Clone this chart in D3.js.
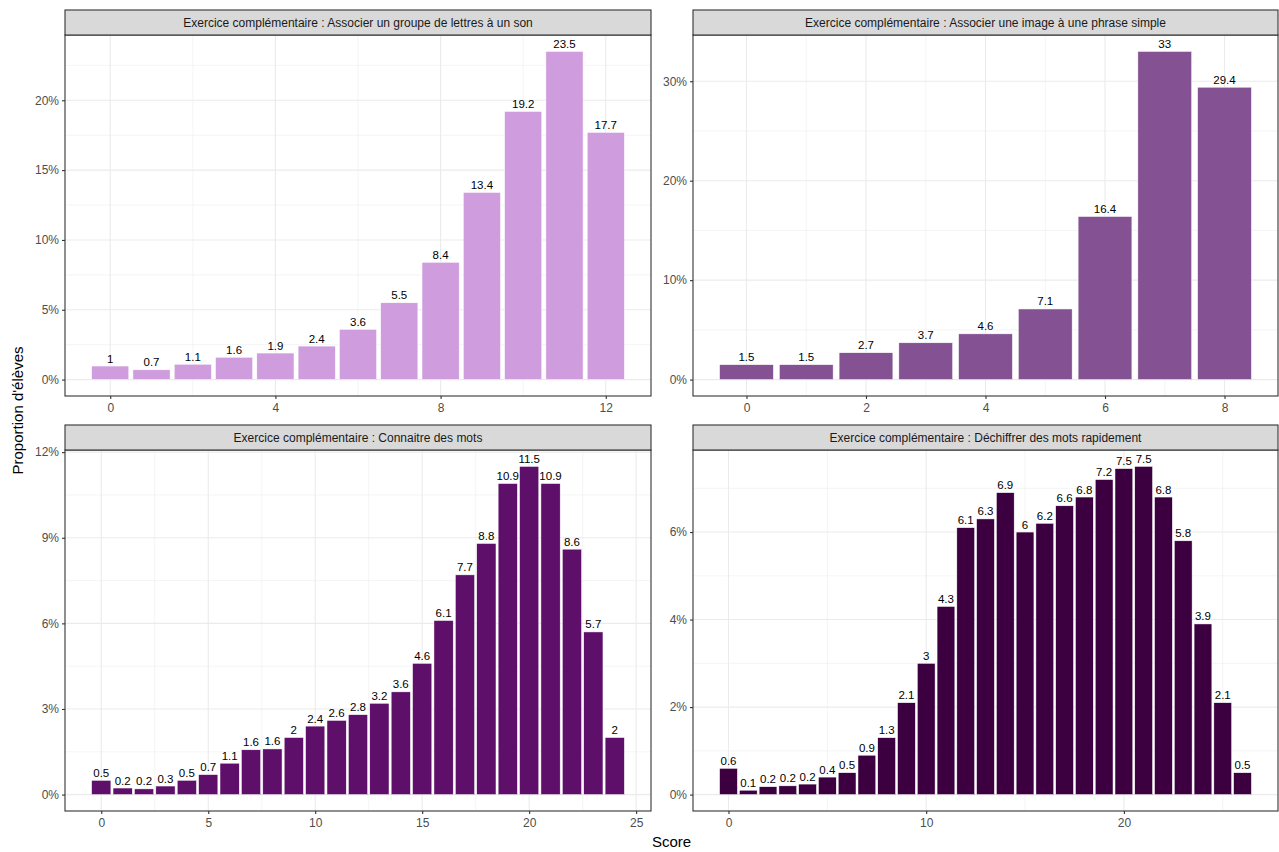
<!DOCTYPE html>
<html><head><meta charset="utf-8">
<script src="https://cdn.jsdelivr.net/npm/d3@7"></script>
<style>body{margin:0;background:#fff;} svg{display:block;font-family:"Liberation Sans",Arial,sans-serif;}</style>
</head><body>
<script>
const titles = [
  "Exercice complémentaire : Associer un groupe de lettres à un son",
  "Exercice complémentaire : Associer une image à une phrase simple",
  "Exercice complémentaire : Connaitre des mots",
  "Exercice complémentaire : Déchiffrer des mots rapidement"
];
const colors = ["#CF9CDE", "#845193", "#5E0F6A", "#3C0041"];
const values1 = [0.97, 0.7, 1.1, 1.6, 1.9, 2.4, 3.6, 5.5, 8.4, 13.4, 19.2, 23.5, 17.7];
const values2 = [1.5, 1.5, 2.7, 3.7, 4.6, 7.1, 16.4, 33, 29.4];
const values3 = [0.5, 0.23, 0.2, 0.3, 0.5, 0.7, 1.1, 1.57, 1.6, 2, 2.4, 2.6, 2.8, 3.2, 3.6, 4.6, 6.1, 7.7, 8.8, 10.9, 11.5, 10.9, 8.6, 5.7, 2];
const values4 = [0.6, 0.1, 0.18, 0.2, 0.24, 0.4, 0.5, 0.9, 1.3, 2.1, 3, 4.3, 6.1, 6.3, 6.9, 6, 6.2, 6.6, 6.8, 7.2, 7.45, 7.5, 6.8, 5.8, 3.9, 2.1, 0.5];
const xTicks = [[0, 4, 8, 12], [0, 2, 4, 6, 8], [0, 5, 10, 15, 20, 25], [0, 10, 20]];
const xMinor = [[2, 6, 10], [1, 3, 5, 7], [2.5, 7.5, 12.5, 17.5, 22.5], [5, 15, 25]];
const yTicks = [[0, 5, 10, 15, 20], [0, 10, 20, 30], [0, 3, 6, 9, 12], [0, 2, 4, 6]];
const yMinor = [[2.5, 7.5, 12.5, 17.5, 22.5], [5, 15, 25], [1.5, 4.5, 7.5, 10.5], [1, 3, 5, 7]];
const xTitle = "Score";
const yTitle = "Proportion d'élèves";

const W = 1279, H = 852;
const svg = d3.select("body").append("svg").attr("width", W).attr("height", H);

const cols = [[65, 651], [693, 1278]];
const rows = [[10, 35, 396], [425, 450, 811]]; // strip top, plot top, plot bottom
const allValues = [values1, values2, values3, values4];
const FONT = "Liberation Sans, Arial, sans-serif";

allValues.forEach((vals, i) => {
  const [x0, x1] = cols[i % 2];
  const [sTop, pTop, pBot] = rows[Math.floor(i / 2)];
  const n = vals.length;
  const lo = -0.45, hi = (n - 1) + 0.45, ex = (hi - lo) * 0.05;
  const x = d3.scaleLinear().domain([lo - ex, hi + ex]).range([x0, x1]);
  const vmax = d3.max(vals);
  const y = d3.scaleLinear().domain([-0.05 * vmax, 1.05 * vmax]).range([pBot, pTop]);
  const g = svg.append("g");

  // grid
  g.selectAll(".ymin").data(yMinor[i].filter(t => y(t) >= pTop)).join("line")
    .attr("x1", x0).attr("x2", x1).attr("y1", d => y(d)).attr("y2", d => y(d))
    .attr("stroke", "#EBEBEB").attr("stroke-width", 0.55);
  g.selectAll(".xmin").data(xMinor[i].filter(t => x(t) <= x1)).join("line")
    .attr("y1", pTop).attr("y2", pBot).attr("x1", d => x(d)).attr("x2", d => x(d))
    .attr("stroke", "#EBEBEB").attr("stroke-width", 0.55);
  g.selectAll(".ymaj").data(yTicks[i]).join("line")
    .attr("x1", x0).attr("x2", x1).attr("y1", d => y(d)).attr("y2", d => y(d))
    .attr("stroke", "#EBEBEB").attr("stroke-width", 1.1);
  g.selectAll(".xmaj").data(xTicks[i]).join("line")
    .attr("y1", pTop).attr("y2", pBot).attr("x1", d => x(d)).attr("x2", d => x(d))
    .attr("stroke", "#EBEBEB").attr("stroke-width", 1.1);

  // bars
  g.selectAll("rect.bar").data(vals).join("rect")
    .attr("x", (d, k) => x(k - 0.45)).attr("width", (d, k) => x(k + 0.45) - x(k - 0.45))
    .attr("y", d => y(d)).attr("height", d => y(0) - y(d))
    .attr("fill", colors[i]).attr("stroke", "#fff").attr("stroke-width", 0.5);

  // labels
  g.selectAll("text.lab").data(vals).join("text")
    .attr("x", (d, k) => x(k)).attr("y", d => y(d) - 3.5)
    .attr("text-anchor", "middle").attr("font-size", 11.5).attr("fill", "#000")
    .text(d => String(Math.round(d * 10) / 10));

  // border
  g.append("rect").attr("x", x0).attr("y", pTop).attr("width", x1 - x0).attr("height", pBot - pTop)
    .attr("fill", "none").attr("stroke", "#333").attr("stroke-width", 1.1);
  // strip
  g.append("rect").attr("x", x0).attr("y", sTop).attr("width", x1 - x0).attr("height", pTop - sTop)
    .attr("fill", "#D9D9D9").attr("stroke", "#333").attr("stroke-width", 1.1);
  g.append("text").attr("x", (x0 + x1) / 2).attr("y", (sTop + pTop) / 2 + 4.3)
    .attr("text-anchor", "middle").attr("font-size", 12).attr("fill", "#1A1A1A").text(titles[i]);

  // y axis
  const ya = svg.append("g").attr("transform", `translate(${x0},0)`)
    .call(d3.axisLeft(y).tickValues(yTicks[i]).tickSize(3).tickPadding(3).tickFormat(d => d + "%"));
  ya.select(".domain").remove();
  ya.selectAll("line").attr("stroke", "#333").attr("stroke-width", 1.1);
  ya.selectAll("text").attr("fill", "#4D4D4D").attr("font-size", 12).attr("font-family", FONT);

  // x axis
  const xa = svg.append("g").attr("transform", `translate(0,${pBot})`)
    .call(d3.axisBottom(x).tickValues(xTicks[i]).tickSize(3).tickPadding(4).tickFormat(d3.format("d")));
  xa.select(".domain").remove();
  xa.selectAll("line").attr("stroke", "#333").attr("stroke-width", 1.1);
  xa.selectAll("text").attr("fill", "#4D4D4D").attr("font-size", 12).attr("font-family", FONT);
});

svg.append("text").attr("x", (65 + 1278) / 2).attr("y", 847).attr("text-anchor", "middle")
  .attr("font-size", 15).attr("fill", "#000").text(xTitle);
svg.append("text").attr("transform", `translate(23,${(10 + 811) / 2}) rotate(-90)`)
  .attr("text-anchor", "middle").attr("font-size", 15).attr("fill", "#000").text(yTitle);
</script>
</body></html>
